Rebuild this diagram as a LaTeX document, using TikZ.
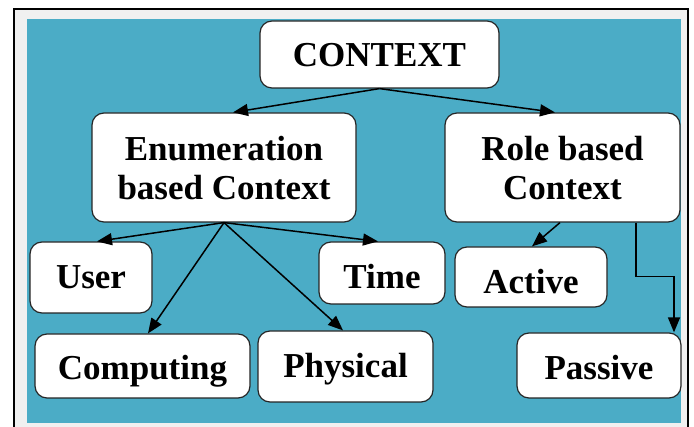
\documentclass[tikz,border=0pt]{standalone}
\usepackage{fontspec}
\setmainfont{Liberation Serif}
\usetikzlibrary{arrows.meta}
\definecolor{panel}{HTML}{4BACC6}
\definecolor{margin}{HTML}{F0F0F0}
\begin{document}
\begin{tikzpicture}[x=1pt,y=-1pt,
  box/.style={draw=black!85, line width=1.2pt, fill=white, rounded corners=12pt,
    align=center, inner sep=0pt, text depth=0pt, font=\fontsize{35}{39}\selectfont\bfseries},
  link/.style={-{Triangle[length=15pt,width=12pt]}, line width=1.5pt}]
\clip (0,0) rectangle (694,427);
\fill[white] (0,0) rectangle (694,427);
% frame and coloured panel
\filldraw[fill=margin, draw=black, line width=2pt] (14,9) rectangle (688,440);
\fill[panel] (27,19) rectangle (681,423);

% boxes
\node[box, minimum width=239pt, minimum height=67pt, text height=25pt] (ctx) at (379.5,54.5) {CONTEXT};
\node[box, minimum width=264pt, minimum height=109pt] (enum) at (224,167.5) {Enumeration\\based Context};
\node[box, minimum width=235pt, minimum height=109pt] (role) at (562.5,167.5) {Role based\\Context};
\node[box, minimum width=122pt, minimum height=71pt, text height=23pt] (user) at (91,277.5) {User};
\node[box, minimum width=126pt, minimum height=62pt, text height=32pt] (time) at (382,273) {Time};
\node[box, minimum width=152pt, minimum height=60pt, text height=34pt] (active) at (531,277) {Active};
\node[box, minimum width=215pt, minimum height=64pt, text height=28pt] (comp) at (142.5,366) {Computing};
\node[box, minimum width=175pt, minimum height=71pt, text height=23pt] (phys) at (345.5,366.5) {Physical};
\node[box, minimum width=164pt, minimum height=65pt, text height=28pt] (pass) at (599,365.5) {Passive};

% connectors
\draw[link] (ctx.south) -- ([xshift=9pt]enum.north);
\draw[link] (ctx.south) -- ([xshift=-7.5pt]role.north);
\draw[link] (enum.south) -- ([xshift=6pt]user.north);
\draw[link] (enum.south) -- ([xshift=5.5pt]comp.north);
\draw[link] (enum.south) -- ([xshift=-2.5pt]phys.north);
\draw[link] (enum.south) -- ([xshift=-4pt]time.north);
\draw[link] ([xshift=-2.5pt]role.south) -- ([xshift=1pt]active.north);
\draw[link] ([xshift=73.5pt]role.south) -- ++(0,54) -| ([xshift=75pt]pass.north);
\end{tikzpicture}
\end{document}
